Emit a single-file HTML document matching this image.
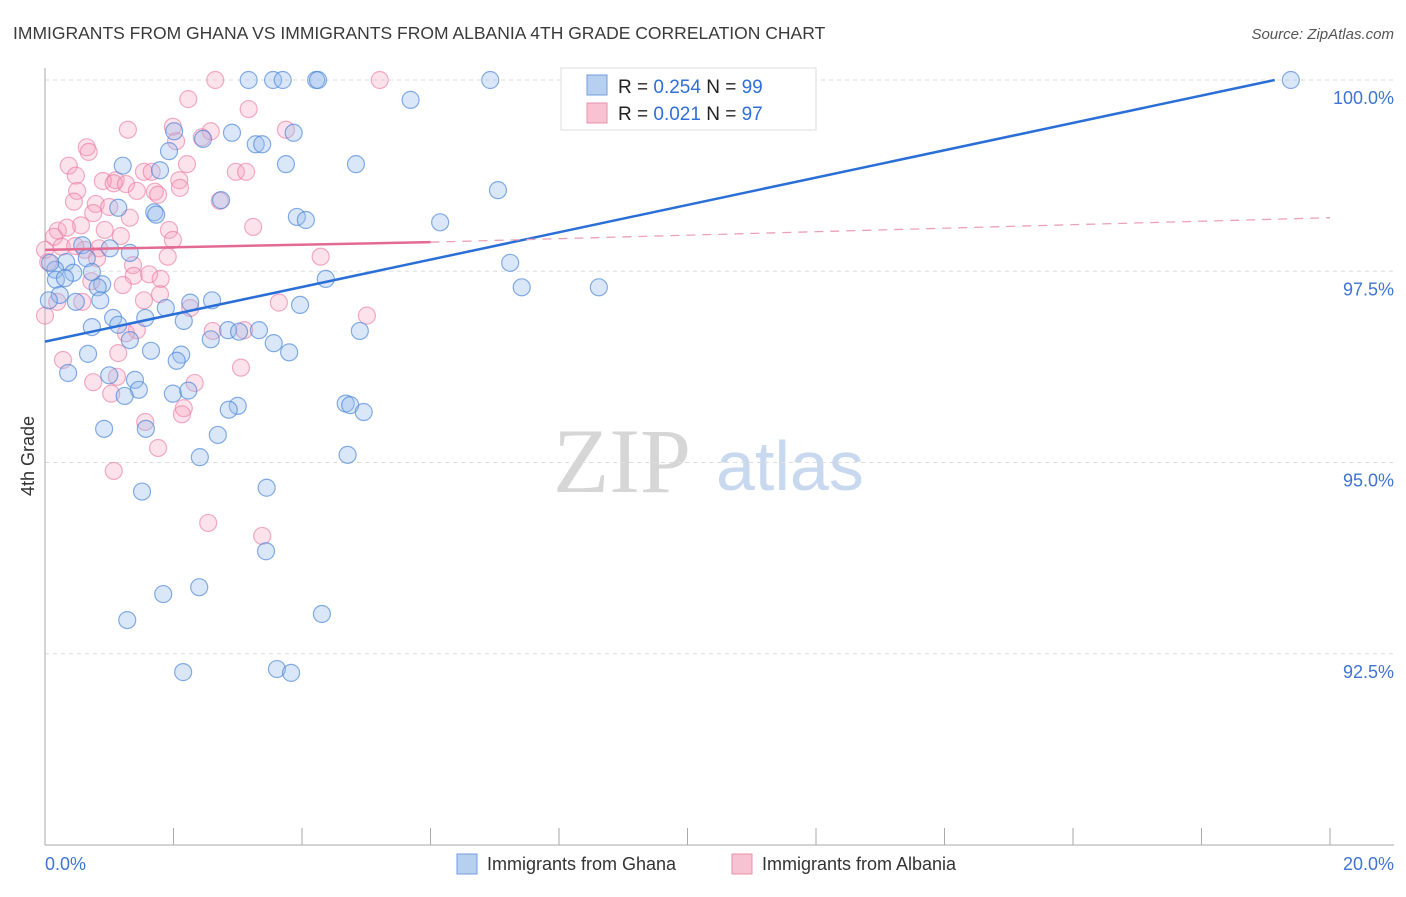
<!DOCTYPE html>
<html><head><meta charset="utf-8"><style>
body{margin:0;background:#fff;font-family:"Liberation Sans",sans-serif;}
svg text{font-family:"Liberation Sans",sans-serif;}
</style></head><body>
<svg id="chart" width="1406" height="892" viewBox="0 0 1406 892" xmlns="http://www.w3.org/2000/svg">
<text x="13" y="39" font-size="17.5" fill="#3a3a3a">IMMIGRANTS FROM GHANA VS IMMIGRANTS FROM ALBANIA 4TH GRADE CORRELATION CHART</text>
<text x="1394" y="39" font-size="15" fill="#555" text-anchor="end" font-style="italic">Source: ZipAtlas.com</text>
<g>
<text x="553" y="492" font-size="92" fill="#d6d6d6" font-family="Liberation Serif" style="font-family:'Liberation Serif',serif">ZIP</text>
<text x="716" y="490" font-size="70" fill="#c8d8ee">atlas</text>
</g>
<g id="grid"></g>
<g id="axes"></g>
<g id="points"></g>
<g id="trends"></g>
<text transform="translate(34,456) rotate(-90)" font-size="18" fill="#333" text-anchor="middle">4th Grade</text>
<g>
<rect x="561" y="68" width="255" height="62" fill="#fff" stroke="#ddd"/>
<rect x="587" y="75" width="20" height="20" fill="#b8d0f0" stroke="#6f9ee0"/>
<rect x="587" y="103" width="20" height="20" fill="#f7c3d3" stroke="#ea8fab"/>
<text x="618" y="93" font-size="19" fill="#222">R = <tspan fill="#2f6fd6">0.254</tspan>   N = <tspan fill="#2f6fd6">99</tspan></text>
<text x="618" y="120" font-size="19" fill="#222">R = <tspan fill="#2f6fd6">0.021</tspan>   N = <tspan fill="#2f6fd6">97</tspan></text>
</g>
<g>
<rect x="457" y="854" width="20" height="20" fill="#b8d0f0" stroke="#6f9ee0"/>
<text x="487" y="870" font-size="18" fill="#333">Immigrants from Ghana</text>
<rect x="732" y="854" width="20" height="20" fill="#f7c3d3" stroke="#ea8fab"/>
<text x="762" y="870" font-size="18" fill="#333">Immigrants from Albania</text>
</g>
</svg>
<script>
const yTicks=[100,97.5,95,92.5];
const yTickLabels=["100.0%","97.5%","95.0%","92.5%"];
const xTickCount=10;
const xLabels=["0.0%","20.0%"];
const ghanaX=[3.17,3.55,3.70,4.22,4.25,6.93,8.23,9.18,19.39,5.69,2.01,2.91,2.46,3.28,3.38,3.87,1.93,1.21,3.75,4.84,1.79,7.05,2.74,1.70,1.73,1.14,3.92,4.06,6.15,0.58,1.01,1.32,0.33,0.65,7.24,0.16,0.73,0.44,0.17,0.31,0.89,0.82,7.42,8.62,4.37,2.60,2.26,3.97,0.86,0.48,1.88,1.56,1.06,1.14,2.16,0.73,2.58,1.32,2.85,3.02,3.33,3.56,3.80,4.90,1.65,2.12,0.67,2.05,0.36,1.00,1.40,1.46,1.99,2.23,1.24,4.68,4.75,4.96,3.00,2.86,0.92,1.57,2.69,2.41,4.71,3.45,1.51,3.44,2.40,1.84,4.31,1.28,2.15,3.61,3.83,0.08,0.23,0.06];
const ghanaY=[100,100,100,100,100,100,100,100,100,99.74,99.33,99.31,99.23,99.16,99.16,99.31,99.07,98.88,98.90,98.90,98.82,98.56,98.43,98.27,98.24,98.33,98.21,98.17,98.14,97.84,97.80,97.74,97.62,97.67,97.61,97.52,97.49,97.48,97.39,97.41,97.33,97.29,97.29,97.29,97.40,97.12,97.09,97.06,97.12,97.10,97.02,96.89,96.89,96.80,96.85,96.77,96.61,96.60,96.73,96.71,96.73,96.56,96.44,96.72,96.46,96.41,96.42,96.33,96.17,96.14,96.08,95.95,95.90,95.94,95.87,95.77,95.75,95.66,95.74,95.69,95.44,95.44,95.36,95.07,95.10,94.67,94.62,93.84,93.37,93.28,93.02,92.94,92.26,92.30,92.25,97.61,97.19,97.12];
const albaniaX=[2.65,5.21,2.23,3.17,1.99,1.29,2.58,3.75,2.44,2.04,0.65,0.68,0.37,2.21,1.54,1.66,0.48,2.97,3.13,1.10,0.90,1.07,2.09,2.10,1.26,0.50,1.71,1.43,1.76,0.79,0.45,1.00,2.72,3.24,1.93,0.56,1.32,0.75,0.20,0.34,0.93,1.18,1.99,0.14,0.26,0.62,0.47,0.84,0.00,0.05,0.81,1.91,4.29,1.37,1.38,1.62,1.80,0.72,1.21,1.79,0.19,0.58,1.54,3.64,5.01,0.00,2.26,1.43,1.26,2.61,3.10,0.28,1.14,3.05,0.75,2.33,1.12,1.03,2.16,2.13,1.56,1.76,1.07,2.54,3.38];
const albaniaY=[100,100,99.75,99.62,99.39,99.35,99.33,99.35,99.25,99.20,99.12,99.06,98.88,98.90,98.80,98.80,98.75,98.80,98.80,98.69,98.68,98.65,98.69,98.59,98.64,98.55,98.54,98.55,98.50,98.38,98.41,98.34,98.42,98.08,98.04,98.10,98.20,98.26,98.03,98.07,98.04,97.96,97.91,97.95,97.82,97.78,97.83,97.80,97.78,97.62,97.67,97.69,97.69,97.58,97.44,97.46,97.40,97.37,97.32,97.20,97.10,97.10,97.12,97.09,96.92,96.92,97.02,96.73,96.69,96.72,96.73,96.34,96.43,96.24,96.05,96.04,96.12,95.90,95.71,95.63,95.53,95.19,94.89,94.21,94.04];
const ghanaTrend=[96.58,100];const ghanaTrendX=[0,19.14];
const albaniaTrend=[97.78,97.88,98.2];const albaniaTrendX=[0,6.0,20];

const NS="http://www.w3.org/2000/svg";
const X0=45,X1=1330,YTOP=80,PXPER=76.5;
const sx=v=>X0+(X1-X0)*v/20;
const sy=v=>YTOP+(100-v)*PXPER;
function mk(tag,attrs,parent){const e=document.createElementNS(NS,tag);for(const k in attrs)e.setAttribute(k,attrs[k]);document.getElementById(parent).appendChild(e);return e;}
yTicks.forEach((t,i)=>{
 const l=mk('line',{x1:X0,x2:1394,y1:sy(t),y2:sy(t),stroke:'#ddd','stroke-dasharray':'4,4'},'grid');
 
 
 const tx=mk('text',{x:1394,y:sy(t)+24,'font-size':18,fill:'#3f74d2','text-anchor':'end'},'axes');
 tx.textContent=yTickLabels[i];
 
 
});
const ax=mk('line',{x1:X0,x2:X0,y1:68,y2:845,stroke:'#aaa'},'axes');


const bx=mk('line',{x1:X0,x2:1394,y1:845,y2:845,stroke:'#aaa'},'axes');


for(let i=0;i<=xTickCount;i++){
 const t=mk('line',{x1:sx(i*2),x2:sx(i*2),y1:828,y2:845,stroke:'#aaa'},'axes');
 
 
}
const xl0=mk('text',{x:45,y:870,'font-size':18,fill:'#3f74d2'},'axes');xl0.textContent=xLabels[0];


const xl1=mk('text',{x:1394,y:870,'font-size':18,fill:'#3f74d2','text-anchor':'end'},'axes');xl1.textContent=xLabels[1];


albaniaX.forEach((v,i)=>{
 const c=mk('circle',{cx:sx(v),cy:sy(albaniaY[i]),r:8.5,fill:'rgba(244,160,188,0.3)',stroke:'rgba(234,120,160,0.6)','stroke-width':1.2},'points');
 
 
});
ghanaX.forEach((v,i)=>{
 const c=mk('circle',{cx:sx(v),cy:sy(ghanaY[i]),r:8.5,fill:'rgba(150,185,235,0.35)',stroke:'rgba(70,130,215,0.65)','stroke-width':1.2},'points');
 
 
});
const gl=mk('line',{x1:sx(ghanaTrendX[0]),y1:sy(ghanaTrend[0]),x2:sx(ghanaTrendX[1]),y2:sy(ghanaTrend[1]),stroke:'#2a6fd6','stroke-width':2.5},'trends');


const al=mk('line',{x1:sx(albaniaTrendX[0]),y1:sy(albaniaTrend[0]),x2:sx(albaniaTrendX[1]),y2:sy(albaniaTrend[1]),stroke:'#e26a93','stroke-width':2.5},'trends');


const ad=mk('line',{x1:sx(albaniaTrendX[1]),y1:sy(albaniaTrend[1]),x2:sx(albaniaTrendX[2]),y2:sy(albaniaTrend[2]),stroke:'#eaa0ba','stroke-width':1.3,'stroke-dasharray':'9,7'},'trends');


</script>
</body></html>
